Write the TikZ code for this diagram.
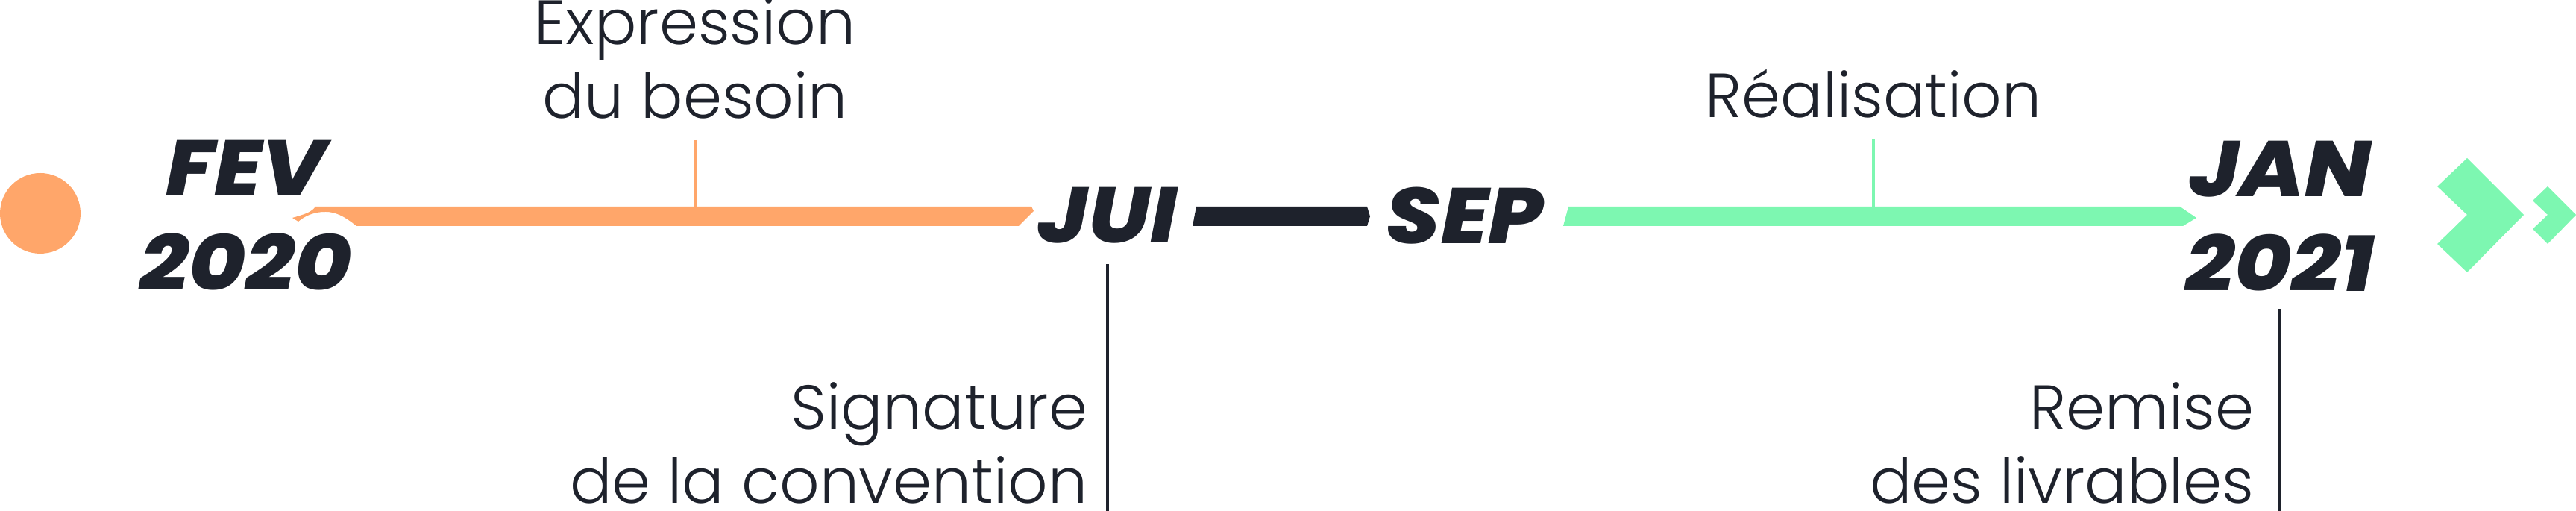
\documentclass[tikz,border=0pt]{standalone}
\usepackage{fontspec}
\usepackage{xcolor}
\usepackage{tikz}
\usetikzlibrary{positioning,calc}
\newfontfamily\phasefamily{Poppins Light}
\newfontfamily\datefamily{Poppins ExtraBold Italic}[FakeStretch=1.1]
\definecolor{inkdark}{RGB}{30,34,44}
\definecolor{phaseorange}{RGB}{255,166,106}
\definecolor{phasegreen}{RGB}{125,247,177}

\begin{document}
\begin{tikzpicture}[
    datebox/.style={font=\datefamily\fontsize{30}{36}\selectfont, text=inkdark, align=center, inner sep=0pt},
    phasebox/.style={font=\phasefamily\fontsize{23.8}{28.2}\selectfont, text=inkdark, inner sep=0pt},
    tickline/.style={line width=0.9pt}]
        \useasboundingbox (0,0) rectangle (34.54,6.85);

        % start dot
        \fill[phaseorange] (0.54,3.99) circle (0.54);

        % dates on the line
        \node[datebox] (fev) at (3.30,3.96) {FEV\\2020};
        \node[datebox] (jui) at (14.85,3.96) {JUI};
        \node[datebox] (sep) at (19.64,3.96) {SEP};
        \node[datebox] (jan) at (30.57,3.95) {JAN\\2021};

        % phase bars
        \fill[phaseorange] (4.23,4.08) -- (13.83,4.08) -- (13.86,4.02) -- (13.66,3.82) -- (4.78,3.82)
            .. controls (4.62,3.95) and (4.50,4.01) .. (4.37,4.01)
            .. controls (4.20,4.01) and (4.08,3.95) .. (4.00,3.88) -- (3.92,3.93)
            .. controls (4.10,3.98) and (4.18,4.01) .. cycle;
        \fill[inkdark] (16.04,4.08) -- (18.33,4.08) -- (18.37,3.95) -- (18.33,3.82) -- (15.99,3.82) -- cycle;
        \fill[phasegreen] (21.03,4.08) -- (29.23,4.08) -- (29.45,3.93) -- (29.27,3.82) -- (20.96,3.82) -- cycle;

        % chevrons
        \fill[phasegreen] (33.08,4.73) -- (33.84,3.97) -- (33.08,3.20) -- (32.68,3.58) -- (33.08,3.97) -- (32.68,4.35) -- cycle;
        \fill[phasegreen] (34.16,4.35) -- (34.54,3.97) -- (34.16,3.58) -- (33.96,3.78) -- (34.16,3.97) -- (33.96,4.16) -- cycle;

        % phases above
        \node[phasebox, align=center, anchor=south] (besoin) at (9.32,5.25) {Expression\\du besoin};
        \node[phasebox, anchor=south] (realisation) at (25.12,5.26) {Réalisation};
        \coordinate (besoinbar) at (besoin.south |- 0,4.08);
        \coordinate (realisationbar) at (realisation.south |- 0,4.08);
        \draw[tickline, phaseorange, shorten <=0.28cm] (besoin) -- (besoinbar);
        \draw[tickline, phasegreen, shorten <=0.28cm] (realisation) -- (realisationbar);

        % milestones below
        \coordinate (juiend) at (jui.south |- 0,0);
        \coordinate (janend) at (jan.south |- 0,0);
        \draw[tickline, inkdark, shorten <=0.27cm] (jui) -- (juiend);
        \draw[tickline, inkdark, shorten <=0.23cm] (jan) -- (janend);
        \node[phasebox, align=right, above left=0.09cm and 0.26cm of juiend] (convention) {Signature\\de la convention};
        \node[phasebox, align=right, above left=0.09cm and 0.34cm of janend] (livrables) {Remise\\des livrables};
      \end{tikzpicture}
\end{document}
